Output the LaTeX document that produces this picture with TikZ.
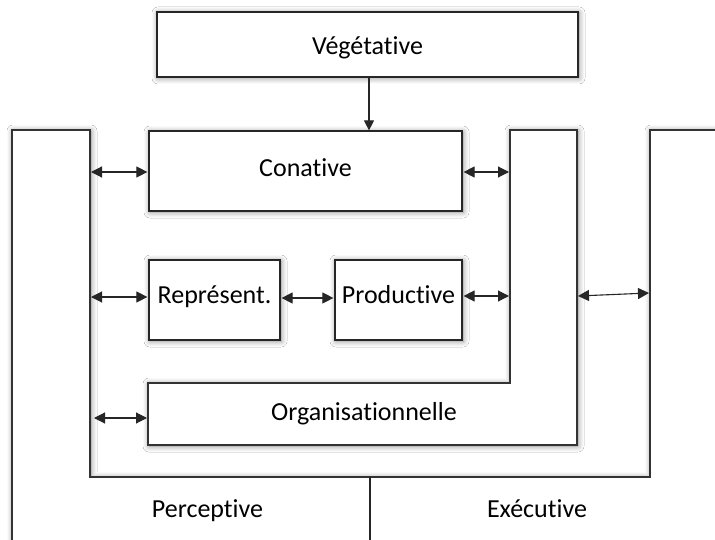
\documentclass[tikz,border=0pt]{standalone}
\usepackage{fontspec}
\setmainfont{Carlito}[Ligatures=NoCommon]
\usetikzlibrary{arrows.meta,shadows.blur,calc}
\begin{document}
\begin{tikzpicture}[x=1pt,y=-1pt,
  shd/.style={blur shadow={shadow xshift=1pt, shadow yshift=-1pt, shadow blur radius=6pt, shadow blur steps=10, shadow opacity=45}},
  txt/.style={font=\fontsize{26}{30}\selectfont, text depth=6pt},
  box/.style={draw=black!85, line width=1.2pt, fill=white, shd, inner sep=0pt, txt},
  frame/.style={draw=black!80, line width=1.2pt, fill=white, shd},
  lbl/.style={txt, inner sep=0pt, anchor=base},
  link/.style={{Triangle[length=11pt,width=11pt]}-{Triangle[length=11pt,width=11pt]}, line width=1.1pt, draw=black!85},
  down/.style={-{Triangle[length=10pt,width=10pt]}, line width=1.1pt, draw=black!85}]
\useasboundingbox (0,0) rectangle (715,540);
\fill[white] (0,0) rectangle (715,540);
% outer U frame (Perceptive / Executive)
\begin{scope}
\clip (0,0) rectangle (715,540);
\path[frame] (12,130) -- (90,130) -- (90,477) -- (650,477) -- (650,130) -- (725,130) -- (725,550) -- (12,550) -- cycle;
\end{scope}
\coordinate (pin) at (90,477);
\coordinate (ein) at (650,477);
\coordinate (mid) at (370,477);
\coordinate (midb) at (370,540);
\draw[line width=1.2pt, draw=black!85] (mid) -- (midb);
\node[lbl] (perc) at (207.5,517) {Perceptive};
\node[lbl] (exec) at (537,517) {Exécutive};
% organisationnelle L-shape
\path[frame] (148,383) -- (510,383) -- (510,130) -- (577,130) -- (577,445) -- (148,445) -- cycle;
\coordinate (oin) at (510,300);
\coordinate (oout) at (577,300);
\coordinate (orgw) at (148,418);
\node[lbl] (org) at (364,420) {Organisationnelle};
% boxes
\node[box, text height=27pt, minimum width=421pt, minimum height=65pt] (veg) at (367.5,44.5) {Végétative};
\node[box, text height=17.5pt, minimum width=313pt, minimum height=80pt] (con) at (305.5,171) {Conative};
\node[box, text height=12pt, minimum width=131pt, minimum height=80pt] (rep) at (214.5,300) {Représent.};
\node[box, text height=12pt, minimum width=127pt, minimum height=80pt] (prod) at (398.5,300) {Productive};
% connectors
\draw[down] (veg.south -| 369,0) -- (369,0 |- con.north);
\draw[link] ($(pin |- con.west)+(1,1)$) -- ($(con.west)+(-1,1)$);
\draw[link] ($(con.east)+(1,1)$) -- ($(oin |- con.east)+(-1,1)$);
\draw[link] ($(pin |- rep.west)+(1,-3)$) -- ($(rep.west)+(-1,-3)$);
\draw[link] ($(rep.east)+(1,-2)$) -- ($(prod.west)+(-1,-2)$);
\draw[link] ($(prod.east)+(1,-4)$) -- ($(oin |- prod.east)+(-1,-4)$);
\draw[link] ($(oout)+(1,-4)$) -- ($(ein |- oout)+(-1,-7)$);
\draw[link] ($(pin |- orgw)+(4,0)$) -- ($(orgw)+(-1,0)$);
\end{tikzpicture}
\end{document}
